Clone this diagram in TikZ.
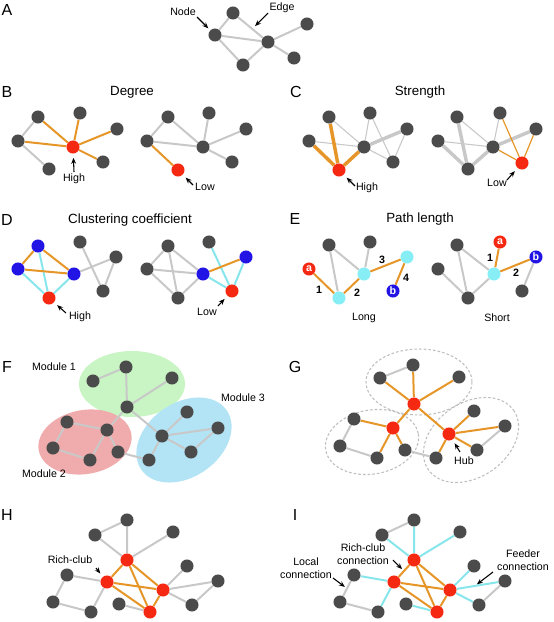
\documentclass[tikz,border=0pt]{standalone}
\usepackage{fontspec}
\setmainfont{Liberation Sans}
\usetikzlibrary{arrows.meta,calc}
\pgfdeclarelayer{back}
\pgfdeclarelayer{edges}
\pgfsetlayers{back,edges,main}
\definecolor{ndark}{RGB}{75,75,75}
\definecolor{nred}{RGB}{245,40,18}
\definecolor{nblue}{RGB}{35,20,230}
\definecolor{ncyan}{RGB}{135,238,245}
\definecolor{egray}{RGB}{200,200,200}
\definecolor{eorange}{RGB}{230,150,40}
\definecolor{ecyan}{RGB}{135,230,235}
\definecolor{fgreen}{RGB}{200,245,195}
\definecolor{fred}{RGB}{240,172,172}
\definecolor{fblue}{RGB}{178,228,245}
\definecolor{dgray}{RGB}{190,190,190}
\begin{document}
\begin{tikzpicture}[x=0.75pt,y=-0.75pt,
  nd/.style={circle,fill=ndark,inner sep=0pt,minimum size=9.8pt},
  nr/.style={nd,fill=nred},
  nb/.style={nd,fill=nblue},
  nc/.style={nd,fill=ncyan},
  ge/.style={draw=egray,line width=1.5pt},
  oe/.style={draw=eorange,line width=1.5pt},
  ce/.style={draw=ecyan,line width=1.5pt},
  gthick/.style={draw=egray,line width=2.6pt},
  gthin/.style={draw=egray,line width=0.8pt},
  othick/.style={draw=eorange,line width=2.6pt},
  othin/.style={draw=eorange,line width=0.9pt},
  lab/.style={font=\fontsize{8}{9.5}\selectfont,inner sep=0pt,align=center},
  ttl/.style={font=\fontsize{10}{12}\selectfont,inner sep=0pt},
  pl/.style={font=\fontsize{12}{14}\selectfont,inner sep=0pt},
  num/.style={font=\bfseries\fontsize{8}{9}\selectfont,inner sep=0pt},
  lt/.style={text=white,font=\bfseries\fontsize{8}{9}\selectfont},
  arr/.style={-{Stealth[length=4.5pt,width=3.6pt]},line width=0.8pt,shorten >=2pt},
  mod/.style={line width=0.8pt,draw=dgray,dash pattern=on 2pt off 1.5pt}
]
\useasboundingbox (0,0) rectangle (554,622);

% ---------------- panel letters & titles
\node[pl] (pA) at (7,10) {A};
\node[pl] (pB) at (7,92) {B};
\node[pl] (pC) at (296,92) {C};
\node[pl] (pD) at (7,220) {D};
\node[pl] (pE) at (295,219) {E};
\node[pl] (pF) at (7,367) {F};
\node[pl] (pG) at (295,367) {G};
\node[pl] (pH) at (7,515) {H};
\node[pl] (pI) at (295,515) {I};
\node[ttl] (tB) at (132,92) {Degree};
\node[ttl] (tC) at (420,92) {Strength};
\node[ttl] (tD) at (130,220) {Clustering coefficient};
\node[ttl] (tE) at (420,219) {Path length};

% ---------------- A
\node[nd] (a1) at (233,13) {};
\node[nd] (a2) at (215,35) {};
\node[nd] (a3) at (268,42) {};
\node[nd] (a4) at (307,24) {};
\node[nd] (a5) at (294,58) {};
\node[nd] (a6) at (243,65) {};
\begin{pgfonlayer}{edges}
\draw[ge] (a1)--(a2) (a1)--(a3) (a2)--(a3) (a2)--(a6) (a6)--(a3) (a3)--(a4) (a3)--(a5);
\end{pgfonlayer}
\node[lab] (tNode) at (183,11.5) {Node};
\node[lab] (tEdge) at (282,8) {Edge};
\coordinate (sNode) at (197,17);
\coordinate (sEdge) at (268,13);
\coordinate (eEdge) at ($(a1)!0.55!(a3)$);
\draw[arr] (sNode) -- (a2);
\draw[arr,shorten >=3pt] (sEdge) -- (eEdge);

% ---------------- B left
\node[nd] (b1) at (38,117) {};
\node[nd] (b2) at (80,113) {};
\node[nd] (b3) at (117,129) {};
\node[nd] (b4) at (18,141) {};
\node[nr] (br) at (73,147) {};
\node[nd] (b5) at (103,162) {};
\node[nd] (b6) at (49,169) {};
\begin{pgfonlayer}{edges}
\draw[ge] (b1)--(b4) (b4)--(b6);
\draw[oe] (br)--(b1) (br)--(b2) (br)--(b3) (br)--(b4) (br)--(b5);
\end{pgfonlayer}
\node[lab] (tBh) at (74,179) {High};
\coordinate (sBh) at (74,172);
\draw[arr,shorten >=3pt] (sBh) -- (br);
% B right
\node[nd] (c1) at (168,117) {};
\node[nd] (c2) at (209,113) {};
\node[nd] (c3) at (246,129) {};
\node[nd] (c4) at (147,141) {};
\node[nd] (c5) at (203,147) {};
\node[nd] (c6) at (232,162) {};
\node[nr] (cr) at (178,170) {};
\begin{pgfonlayer}{edges}
\draw[ge] (c1)--(c4) (c1)--(c5) (c2)--(c5) (c3)--(c5) (c4)--(c5) (c5)--(c6);
\draw[oe] (c4)--(cr);
\end{pgfonlayer}
\node[lab] (tBl) at (205,187) {Low};
\coordinate (sBl) at (193,185);
\draw[arr,shorten >=3pt] (sBl) -- (cr);

% ---------------- C left
\node[nd] (d1) at (329,117) {};
\node[nd] (d2) at (370,113) {};
\node[nd] (d3) at (407,129) {};
\node[nd] (d4) at (309,141) {};
\node[nd] (d5) at (364,147) {};
\node[nd] (d6) at (393,162) {};
\node[nr] (dr) at (339,170) {};
\begin{pgfonlayer}{edges}
\draw[gthin] (d1)--(d5) (d4)--(d5) (d2)--(d5) (d2)--(d6) (d5)--(d6) (d3)--(d6);
\draw[gthick] (d5)--(d3);
\draw[othick] (dr)--(d4) (dr)--(d1) (dr)--(d5);
\end{pgfonlayer}
\node[lab] (tCh) at (367,188) {High};
\coordinate (sCh) at (355,186);
\draw[arr,shorten >=3pt] (sCh) -- (dr);
% C right
\node[nd] (e1) at (457,117) {};
\node[nd] (e2) at (500,113) {};
\node[nd] (e3) at (536,129) {};
\node[nd] (e4) at (438,141) {};
\node[nd] (e5) at (493,147) {};
\node[nr] (er) at (522,163) {};
\node[nd] (e6) at (468,169) {};
\begin{pgfonlayer}{edges}
\draw[gthick] (e1)--(e6) (e4)--(e6) (e6)--(e5) (e5)--(e3);
\draw[gthin] (e1)--(e5) (e4)--(e5) (e2)--(e5);
\draw[othin] (e2)--(er) (e3)--(er) (e5)--(er);
\end{pgfonlayer}
\node[lab] (tCl) at (497,183) {Low};
\coordinate (sCl) at (507,180);
\draw[arr,shorten >=3pt] (sCl) -- (er);

% ---------------- D left
\node[nb] (f1) at (38,246) {};
\node[nd] (f2) at (80,242) {};
\node[nd] (f3) at (116,257) {};
\node[nb] (f4) at (18,269) {};
\node[nb] (f5) at (74,274) {};
\node[nd] (f6) at (103,291) {};
\node[nr] (fr) at (49,298) {};
\begin{pgfonlayer}{edges}
\draw[ge] (f2)--(f6) (f5)--(f3) (f3)--(f6);
\draw[ce] (f1)--(fr) (f4)--(fr) (f5)--(fr);
\draw[oe] (f1)--(f4) (f1)--(f5) (f4)--(f5);
\end{pgfonlayer}
\node[lab] (tDh) at (80,317) {High};
\coordinate (sDh) at (66,313);
\draw[arr,shorten >=3pt] (sDh) -- (fr);
% D right
\node[nd] (g1) at (168,246) {};
\node[nd] (g2) at (209,242) {};
\node[nb] (g3) at (246,257) {};
\node[nd] (g4) at (147,269) {};
\node[nb] (g5) at (203,274) {};
\node[nr] (gr) at (232,291) {};
\node[nd] (g6) at (178,298) {};
\begin{pgfonlayer}{edges}
\draw[ge] (g1)--(g4) (g1)--(g6) (g1)--(g5) (g4)--(g5) (g4)--(g6) (g6)--(g5);
\draw[ce] (g2)--(gr) (g3)--(gr) (g5)--(gr);
\draw[oe] (g5)--(g3);
\end{pgfonlayer}
\node[lab] (tDl) at (207,312) {Low};
\coordinate (sDl) at (218,306);
\draw[arr,shorten >=3pt] (sDl) -- (gr);

% ---------------- E left
\node[nd] (h1) at (329,245) {};
\node[nd] (h2) at (370,242) {};
\node[nc] (h3) at (407,257) {};
\node[nr,lt] (ha) at (309,269) {a};
\node[nc] (h5) at (364,274) {};
\node[nb,lt] (hb) at (393,291) {b};
\node[nc] (h7) at (339,298) {};
\begin{pgfonlayer}{edges}
\draw[ge] (h1)--(h7) (h1)--(h5) (h2)--(h5);
\draw[oe] (ha)--(h7) (h7)--(h5) (h5)--(h3) (h3)--(hb);
\end{pgfonlayer}
\node[num] (n1) at (319,290) {1};
\node[num] (n2) at (357,293) {2};
\node[num] (n3) at (382,260) {3};
\node[num] (n4) at (406,278) {4};
\node[lab] (tLong) at (364,318) {Long};
% E right
\node[nd] (k1) at (457,245) {};
\node[nr,lt] (ka) at (500,242) {a};
\node[nb,lt] (kb) at (536,257) {b};
\node[nd] (k4) at (438,269) {};
\node[nc] (k5) at (494,274) {};
\node[nd] (k6) at (522,291) {};
\node[nd] (k7) at (468,298) {};
\begin{pgfonlayer}{edges}
\draw[ge] (k1)--(k7) (k1)--(k5) (k4)--(k7) (k7)--(k5) (kb)--(k6);
\draw[oe] (ka)--(k5) (k5)--(kb);
\end{pgfonlayer}
\node[num] (m1) at (490,258) {1};
\node[num] (m2) at (516,273) {2};
\node[lab] (tShort) at (497,318) {Short};

% ---------------- F
\begin{pgfonlayer}{back}
\fill[fgreen] (132,384) ellipse [x radius=53, y radius=33];
\fill[fred,rotate around={10:(85,442)}] (85,442) ellipse [x radius=47, y radius=32];
\fill[fblue,rotate around={35:(184,440)}] (184,440) ellipse [x radius=52, y radius=37];
\draw[mod] (419,382) ellipse [x radius=53, y radius=33];
\draw[mod,rotate around={10:(372,442)}] (372,442) ellipse [x radius=47, y radius=32];
\draw[mod,rotate around={35:(471,440)}] (471,440) ellipse [x radius=52, y radius=37];
\end{pgfonlayer}
\node[nd] (p1) at (126,367) {};
\node[nd] (p2) at (93,381) {};
\node[nd] (p3) at (172,378) {};
\node[nd] (p4) at (127,407) {};
\node[nd] (q1) at (67,422) {};
\node[nd] (q2) at (107,430) {};
\node[nd] (q3) at (53,448) {};
\node[nd] (q4) at (118,452) {};
\node[nd] (q5) at (90,460) {};
\node[nd] (s1) at (187,412) {};
\node[nd] (s2) at (218,428) {};
\node[nd] (s3) at (162,436) {};
\node[nd] (s4) at (191,452) {};
\node[nd] (s5) at (149,460) {};
\begin{pgfonlayer}{edges}
\draw[ge] (p2)--(p1) (p1)--(p4) (p3)--(p4)
  (q1)--(q2) (q1)--(q3) (q3)--(q5) (q5)--(q2) (q2)--(q4)
  (s1)--(s3) (s3)--(s2) (s2)--(s4) (s4)--(s3) (s3)--(s5)
  (p4)--(q2) (p4)--(s3) (q4)--(s5);
\end{pgfonlayer}
\node[lab] (tM1) at (54,367) {Module 1};
\node[lab] (tM2) at (44,474) {Module 2};
\node[lab] (tM3) at (243,398) {Module 3};

% ---------------- G
\node[nd] (u1) at (413,365) {};
\node[nd] (u2) at (380,378) {};
\node[nd] (u3) at (459,377) {};
\node[nr] (ur) at (414,404) {};
\node[nd] (v1) at (354,419) {};
\node[nr] (vr) at (393,428) {};
\node[nd] (v3) at (340,446) {};
\node[nd] (v4) at (405,450) {};
\node[nd] (v5) at (377,458) {};
\node[nd] (w1) at (474,411) {};
\node[nd] (w2) at (505,426) {};
\node[nr] (wr) at (449,434) {};
\node[nd] (w4) at (477,450) {};
\node[nd] (w5) at (436,458) {};
\begin{pgfonlayer}{edges}
\draw[ge] (u2)--(u1) (v1)--(v3) (v3)--(v5) (v4)--(w5) (w4)--(w2);
\draw[oe] (ur)--(u1) (ur)--(u2) (ur)--(u3) (ur)--(vr) (ur)--(wr)
  (vr)--(v1) (vr)--(v5) (vr)--(v4)
  (wr)--(w1) (wr)--(w2) (wr)--(w4) (wr)--(w5);
\end{pgfonlayer}
\node[lab] (tHub) at (464,461) {Hub};
\coordinate (sHub) at (460,452);
\draw[arr,shorten >=3pt] (sHub) -- (wr);

% ---------------- H
\node[nd] (x1) at (127,520) {};
\node[nd] (x2) at (95,535) {};
\node[nd] (x3) at (173,532) {};
\node[nr] (xr1) at (127,560) {};
\node[nd] (x4) at (187,566) {};
\node[nd] (x5) at (67,575) {};
\node[nr] (xr2) at (107,582) {};
\node[nd] (x6) at (218,581) {};
\node[nr] (xr3) at (163,590) {};
\node[nd] (x7) at (53,602) {};
\node[nd] (x8) at (119,604) {};
\node[nd] (x9) at (192,605) {};
\node[nd] (x10) at (91,612) {};
\node[nr] (xr4) at (150,612) {};
\begin{pgfonlayer}{edges}
\draw[ge] (x2)--(x1) (x2)--(xr1) (x1)--(xr1) (x3)--(xr1) (x4)--(xr3)
  (x5)--(xr2) (x5)--(x7) (x7)--(x10) (x10)--(xr2) (x6)--(xr3) (x6)--(x9)
  (x9)--(xr3) (x8)--(xr4);
\draw[oe] (xr1)--(xr2) (xr1)--(xr3) (xr1)--(xr4) (xr2)--(xr3) (xr2)--(xr4) (xr3)--(xr4);
\end{pgfonlayer}
\node[lab] (tRC) at (70,560) {Rich-club};
\coordinate (sRC) at (96,568);
\draw[arr,shorten >=3pt] (sRC) -- (xr2);

% ---------------- I
\node[nd] (y1) at (414,520) {};
\node[nd] (y2) at (382,535) {};
\node[nd] (y3) at (460,532) {};
\node[nr] (yr1) at (414,560) {};
\node[nd] (y4) at (474,566) {};
\node[nd] (y5) at (354,575) {};
\node[nr] (yr2) at (394,582) {};
\node[nd] (y6) at (505,581) {};
\node[nr] (yr3) at (450,590) {};
\node[nd] (y7) at (340,602) {};
\node[nd] (y8) at (406,604) {};
\node[nd] (y9) at (479,605) {};
\node[nd] (y10) at (378,612) {};
\node[nr] (yr4) at (437,612) {};
\begin{pgfonlayer}{edges}
\draw[ge] (y2)--(y1) (y5)--(y7) (y7)--(y10) (y6)--(y9);
\draw[ce] (y1)--(yr1) (y3)--(yr1) (y2)--(yr1) (y4)--(yr3) (y6)--(yr3) (y9)--(yr3)
  (y5)--(yr2) (y10)--(yr2) (y8)--(yr4);
\draw[oe] (yr1)--(yr2) (yr1)--(yr3) (yr1)--(yr4) (yr2)--(yr3) (yr2)--(yr4) (yr3)--(yr4);
\end{pgfonlayer}
\node[lab] (tRCc) at (363,554) {Rich-club\\connection};
\node[lab] (tLoc) at (306,568) {Local\\connection};
\node[lab] (tFeed) at (523,560) {Feeder\\connection};
\coordinate (sRCc) at (393,560);
\coordinate (eRCc) at ($(yr1)!0.5!(yr2)$);
\draw[arr] (sRCc) -- (eRCc);
\coordinate (sLoc) at (333,578);
\coordinate (eLoc) at ($(y5)!0.5!(y7)$);
\draw[arr] (sLoc) -- (eLoc);
\coordinate (sFeed) at (493,572);
\coordinate (eFeed) at ($(yr3)!0.45!(y6)$);
\draw[arr] (sFeed) -- (eFeed);
\end{tikzpicture}
\end{document}
